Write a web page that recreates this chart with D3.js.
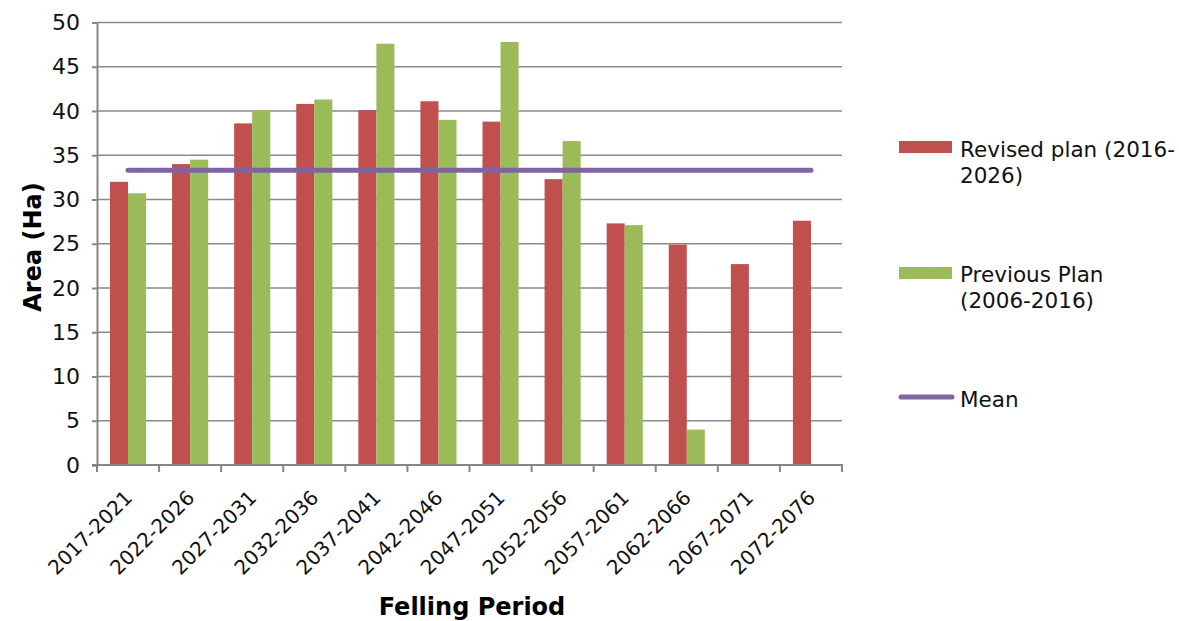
<!DOCTYPE html>
<html>
<head>
<meta charset="utf-8">
<script src="https://cdn.jsdelivr.net/npm/d3@7"></script>
<style>
  html, body { margin: 0; padding: 0; background: #fff; }
  svg { display: block; font-family: "DejaVu Sans", Verdana, sans-serif; }
</style>
</head>
<body>
<svg id="chart" width="1179" height="621"></svg>
<script>
// Felling area per five-year period (hectares)
const periods = ["2017-2021", "2022-2026", "2027-2031", "2032-2036", "2037-2041", "2042-2046",
                 "2047-2051", "2052-2056", "2057-2061", "2062-2066", "2067-2071", "2072-2076"];
const revisedPlan = [32.0, 34.0, 38.6, 40.8, 40.1, 41.1, 38.8, 32.3, 27.3, 24.9, 22.7, 27.6];
const previousPlan = [30.7, 34.5, 40.1, 41.3, 47.6, 39.0, 47.8, 36.6, 27.1, 4.0, null, null];
const meanArea = 33.3;
const yTicks = [0, 5, 10, 15, 20, 25, 30, 35, 40, 45, 50];

const colors = { revised: "#C0504D", previous: "#9BBB59", mean: "#8064A2" };

const svg = d3.select("#chart");
const plot = { left: 97, right: 842, top: 22.5, bottom: 465 };

const x0 = d3.scaleBand().domain(periods).range([plot.left, plot.right]);
const x1 = d3.scaleBand().domain(["revised", "previous"])
  .range([0, x0.bandwidth()]).paddingInner(0).paddingOuter(0.72);
const y = d3.scaleLinear().domain([0, 50]).range([plot.bottom, plot.top]);

// horizontal gridlines
svg.append("g")
  .selectAll("line")
  .data(yTicks.filter(t => t > 0))
  .join("line")
  .attr("x1", plot.left).attr("x2", plot.right)
  .attr("y1", d => y(d)).attr("y2", d => y(d))
  .attr("stroke", "#8a8a8a").attr("stroke-width", 1.4);

// bars
const rows = periods.map((p, i) => ({ period: p, revised: revisedPlan[i], previous: previousPlan[i] }));
const groups = svg.append("g").selectAll("g")
  .data(rows).join("g")
  .attr("transform", d => `translate(${x0(d.period)},0)`);
groups.selectAll("rect")
  .data(d => ["revised", "previous"].filter(k => d[k] != null).map(k => ({ key: k, value: d[k] })))
  .join("rect")
  .attr("x", d => x1(d.key))
  .attr("width", x1.bandwidth())
  .attr("y", d => y(d.value))
  .attr("height", d => y(0) - y(d.value))
  .attr("fill", d => colors[d.key]);

// mean line across the category centres
const meanPts = periods.map(p => [x0(p) + x0.bandwidth() / 2, y(meanArea)]);
svg.append("path")
  .attr("d", d3.line()(meanPts))
  .attr("fill", "none")
  .attr("stroke", colors.mean)
  .attr("stroke-width", 5)
  .attr("stroke-linecap", "round");

// y axis
const yAxis = svg.append("g")
  .attr("transform", `translate(${plot.left},0)`)
  .call(d3.axisLeft(y).tickValues(yTicks).tickSize(5).tickPadding(12));
yAxis.select(".domain").attr("stroke", "#868686").attr("stroke-width", 2);
yAxis.selectAll(".tick line").attr("stroke", "#868686").attr("stroke-width", 2);
yAxis.selectAll(".tick text")
  .attr("font-family", "DejaVu Sans, Verdana, sans-serif")
  .attr("font-size", 22).attr("fill", "#111");

// x axis with boundary ticks between categories
const xAxis = svg.append("g")
  .attr("transform", `translate(0,${plot.bottom})`);
xAxis.append("line")
  .attr("x1", plot.left - 5).attr("x2", plot.right + 1)
  .attr("stroke", "#868686").attr("stroke-width", 2);
const boundaries = periods.map(p => x0(p)).concat([plot.right]);
xAxis.selectAll("line.tick")
  .data(boundaries).join("line").attr("class", "tick")
  .attr("x1", d => d).attr("x2", d => d)
  .attr("y1", 0).attr("y2", 7)
  .attr("stroke", "#868686").attr("stroke-width", 2);
xAxis.selectAll("text")
  .data(periods).join("text")
  .attr("transform", d => `translate(${x0(d) + x0.bandwidth() / 2 + 5.5},${34}) rotate(-45)`)
  .attr("text-anchor", "end")
  .attr("font-size", 20).attr("fill", "#111")
  .text(d => d);

// axis titles
svg.append("text")
  .attr("transform", `translate(41,${247}) rotate(-90)`)
  .attr("text-anchor", "middle")
  .attr("font-size", 24).attr("font-weight", "bold").attr("fill", "#000")
  .text("Area (Ha)");
svg.append("text")
  .attr("x", 472).attr("y", 615)
  .attr("text-anchor", "middle")
  .attr("font-size", 24).attr("font-weight", "bold").attr("fill", "#000")
  .text("Felling Period");

// legend
const legend = svg.append("g").attr("font-size", 21.5).attr("fill", "#111");
legend.append("rect").attr("x", 899).attr("y", 141).attr("width", 53).attr("height", 12).attr("fill", colors.revised);
legend.append("text").attr("x", 960).attr("y", 157).text("Revised plan (2016-");
legend.append("text").attr("x", 960).attr("y", 183).text("2026)");
legend.append("rect").attr("x", 899).attr("y", 267).attr("width", 53).attr("height", 12).attr("fill", colors.previous);
legend.append("text").attr("x", 960).attr("y", 282).text("Previous Plan");
legend.append("text").attr("x", 960).attr("y", 308).text("(2006-2016)");
legend.append("line").attr("x1", 901).attr("x2", 952).attr("y1", 397).attr("y2", 397)
  .attr("stroke", colors.mean).attr("stroke-width", 5).attr("stroke-linecap", "round");
legend.append("text").attr("x", 960).attr("y", 407).text("Mean");
</script>
</body>
</html>
